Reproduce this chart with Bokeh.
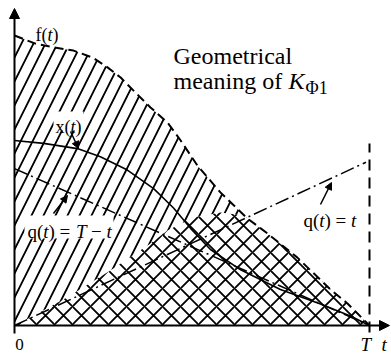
from bokeh.plotting import figure
from bokeh.models import Range1d, Label, Arrow, NormalHead, BoxAnnotation
from bokeh.embed import file_html
from bokeh.resources import INLINE

# t in units of T, heights in units of f(0)
f_t = [0.0, 0.059, 0.110, 0.166, 0.220, 0.262, 0.299, 0.341, 0.383, 0.431,
       0.468, 0.515, 0.580, 0.656, 0.713, 0.797, 0.890, 0.938, 1.0]
f_vals = [1.0, 0.972, 0.959, 0.948, 0.924, 0.890, 0.855, 0.803, 0.752, 0.700,
          0.638, 0.552, 0.459, 0.369, 0.317, 0.234, 0.124, 0.076, 0.0]

x_t = [0.0, 0.082, 0.177, 0.242, 0.318, 0.392, 0.448, 0.496, 0.552, 0.637,
       0.749, 0.862, 0.946, 1.0]
x_vals = [0.638, 0.628, 0.610, 0.582, 0.536, 0.472, 0.405, 0.335, 0.262, 0.192,
          0.124, 0.074, 0.033, 0.0]

# cross-hatched region (weighted area)
k_t = [0.0, 0.054, 0.149, 0.270, 0.383, 0.431, 0.504, 0.580, 0.645, 0.713,
       0.797, 0.890, 0.938, 1.0]
k_vals = [0.0, 0.034, 0.097, 0.190, 0.283, 0.328, 0.372, 0.390, 0.379, 0.317,
          0.234, 0.124, 0.076, 0.0]

q_rise_t = [0.0, 0.99]
q_rise = [0.0, 0.563]
q_fall_t = [0.0, 1.0]
q_fall = [0.541, 0.0]

W, H = 391, 354
X0, Y0, SX, SY = 14, 325, 355, 290


def tx(px):
    return (px - X0) / SX


def hy(py):
    return (Y0 - py) / SY


p = figure(width=W, height=H, output_backend="svg", toolbar_location=None,
           x_range=Range1d(tx(0), tx(W)), y_range=Range1d(hy(H), hy(0)),
           x_axis_type=None, y_axis_type=None, min_border=0)
p.outline_line_color = None
p.background_fill_color = "white"
p.border_fill_color = "white"

# hatched areas
p.varea(x=f_t, y1=[0] * len(f_t), y2=f_vals, fill_color="white",
        hatch_pattern="/", hatch_scale=24, hatch_weight=1.8, hatch_color="black")
p.varea(x=k_t, y1=[0] * len(k_t), y2=k_vals, fill_color="white",
        hatch_pattern="x", hatch_scale=18, hatch_weight=1.8, hatch_color="black")

# curves
p.line(f_t, f_vals, line_color="black", line_width=2, line_dash="9 5")
p.line(x_t, x_vals, line_color="black", line_width=1.6)
p.line(q_rise_t, q_rise, line_color="black", line_width=1.5, line_dash="14 4 2 4")
p.line(q_fall_t, q_fall, line_color="black", line_width=1.5, line_dash="14 4 2 4")
p.line([1.0, 1.0], [hy(332), hy(143)], line_color="black", line_width=2,
       line_dash="11 7")

# axes with arrows
p.add_layout(Arrow(end=NormalHead(size=10, fill_color="black", line_color="black"),
                   x_start=0, y_start=hy(333), x_end=0, y_end=hy(8),
                   line_width=2, line_color="black"))
p.add_layout(Arrow(end=NormalHead(size=10, fill_color="black", line_color="black"),
                   x_start=0, y_start=0, x_end=tx(389), y_end=0,
                   line_width=2, line_color="black"))

FONT = "Liberation Serif"


def blank(x0, y0, x1, y1):
    # white patch behind a label inside the hatched area
    p.add_layout(BoxAnnotation(left=tx(x0), right=tx(x1), top=hy(y0), bottom=hy(y1),
                               fill_color="white", fill_alpha=1.0,
                               line_color=None, line_alpha=0))


def txt(s, px, py, size, italic=False, align="left"):
    p.add_layout(Label(x=tx(px), y=hy(py), text=s, text_font=FONT,
                       text_font_size=f"{size}px", text_color="black",
                       text_font_style="italic" if italic else "normal",
                       text_align=align, text_baseline="alphabetic"))


def pointer(x0, y0, x1, y1):
    p.add_layout(Arrow(end=NormalHead(size=7, fill_color="black", line_color="black"),
                       x_start=tx(x0), y_start=hy(y0), x_end=tx(x1), y_end=hy(y1),
                       line_width=1.5, line_color="black"))


# f(t)
txt("f(", 35, 34, 18)
txt("t", 47, 34, 18, italic=True)
txt(")", 52, 34, 18)

# title
txt("Geometrical", 173, 55, 24)
txt("meaning of", 173, 80, 24)
txt("K", 288, 80, 24, italic=True)
txt("\u03a61", 305, 87, 18)

# x(t)
blank(53, 111, 83, 130)
txt("x(", 55, 126, 18)
txt("t", 70, 126, 18, italic=True)
txt(")", 75, 126, 18)
pointer(70, 131, 78, 148)

# q(t) = T - t
blank(24, 215, 113, 238)
txt("q(", 27, 231, 19)
txt("t", 42.8, 231, 19, italic=True)
txt(")", 48.1, 231, 19)
txt("=", 59, 231, 19)
txt("T", 75.5, 231, 19, italic=True)
txt("\u2212", 90.5, 231, 19)
txt("t", 106, 231, 19, italic=True)
pointer(53, 213, 67, 195)

# q(t) = t
txt("q(", 303, 220, 19)
txt("t", 318.8, 220, 19, italic=True)
txt(")", 324.1, 220, 19)
txt("=", 335, 220, 19)
txt("t", 350.6, 220, 19, italic=True)
pointer(320, 204, 331, 182)

# axis labels
txt("0", 19, 344, 17, align="center")
txt("T", 360, 344, 19, italic=True)
txt("t", 381, 344, 19, italic=True)

open("out.html", "w").write(file_html(p, INLINE))
